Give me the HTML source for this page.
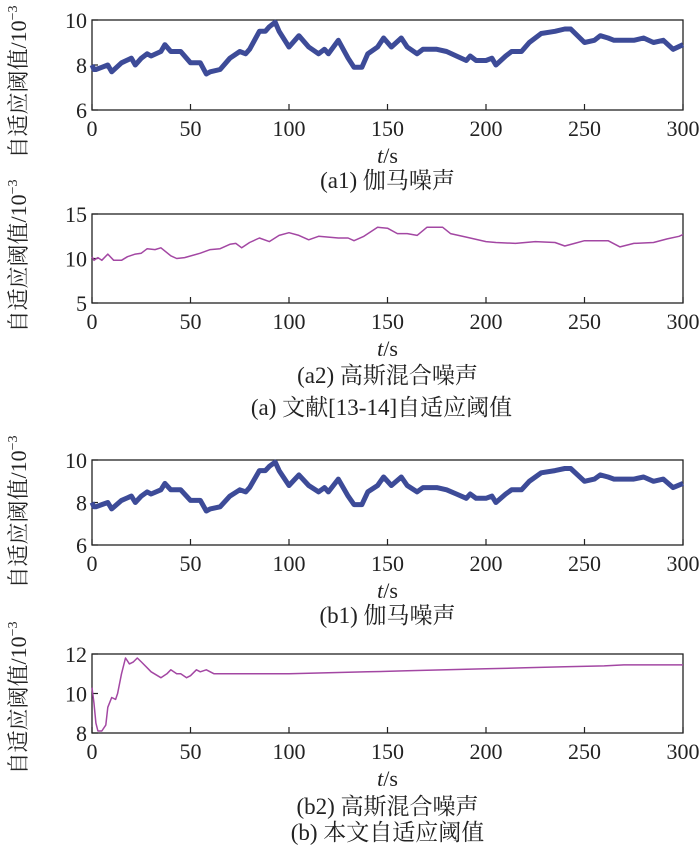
<!DOCTYPE html>
<html><head><meta charset="utf-8"><style>
body{margin:0;background:#fff}
svg{display:block}
text{font-family:"Liberation Serif","Noto Serif CJK SC","Noto Sans CJK SC",serif;fill:#222}
</style></head><body>
<svg id="fig" width="700" height="853" viewBox="0 0 700 853"></svg>
<script>
const gammaT=[0,1,2,5,8,10,15,20,22,25,28,30,35,37,40,45,50,55,58,60,65,70,75,78,80,85,88,90,93,95,100,105,110,115,118,120,125,130,133,137,140,145,148,152,157,160,165,168,175,180,185,190,192,195,200,203,205,210,213,218,222,228,235,240,243,250,255,258,262,265,275,280,285,290,295,300];
const gammaV=[8.0,7.8,7.8,7.9,8.0,7.7,8.1,8.3,8.0,8.3,8.5,8.4,8.6,8.9,8.6,8.6,8.1,8.1,7.6,7.7,7.8,8.3,8.6,8.5,8.7,9.5,9.5,9.7,9.9,9.5,8.8,9.3,8.8,8.5,8.7,8.5,9.1,8.3,7.9,7.9,8.5,8.8,9.2,8.8,9.2,8.8,8.5,8.7,8.7,8.6,8.4,8.2,8.4,8.2,8.2,8.3,8.0,8.4,8.6,8.6,9.0,9.4,9.5,9.6,9.6,9.0,9.1,9.3,9.2,9.1,9.1,9.2,9.0,9.1,8.7,8.9];
const mixAT=[0,1,3,5,8,11,15,18,22,25,28,32,35,40,43,47,55,60,65,70,73,76,80,85,90,95,100,105,110,115,120,125,130,133,138,145,150,155,160,165,170,178,182,190,200,205,215,225,235,240,245,250,262,268,275,285,292,298,300];
const mixAV=[10.2,9.8,10.1,9.8,10.5,9.8,9.8,10.2,10.5,10.6,11.1,11.0,11.2,10.3,10.0,10.1,10.6,11.0,11.1,11.6,11.7,11.2,11.8,12.3,11.9,12.6,12.9,12.6,12.1,12.5,12.4,12.3,12.3,12.0,12.5,13.5,13.4,12.8,12.8,12.6,13.5,13.5,12.8,12.4,11.9,11.8,11.7,11.9,11.8,11.4,11.7,12.0,12.0,11.3,11.7,11.8,12.2,12.5,12.7];
const mixBT=[0,1,2,3,5,7,8,10,12,13,15,17,19,21,23,25,28,30,35,38,40,43,45,48,50,53,55,58,62,65,75,100,120,140,160,180,200,220,240,260,270,300];
const mixBV=[10.3,9.5,8.5,8.1,8.1,8.4,9.3,9.8,9.7,10.0,11.0,11.8,11.5,11.6,11.8,11.6,11.3,11.1,10.8,11.0,11.2,11.0,11.0,10.8,10.9,11.2,11.1,11.2,11.0,11.0,11.0,11.0,11.05,11.1,11.15,11.2,11.25,11.3,11.35,11.4,11.45,11.45];
const xTicks=[0,50,100,150,200,250,300];
const panels=[
 {id:'a1',top:20,bot:110,ymin:6,ymax:10,yt:[6,8,10],T:gammaT,V:gammaV,col:'#3d4b98',w:5,cap:'(a1) 伽马噪声',capY:188,lblC:82},
 {id:'a2',top:214,bot:303,ymin:5,ymax:15,yt:[5,10,15],T:mixAT,V:mixAV,col:'#a347a3',w:1.5,cap:'(a2) 高斯混合噪声',capY:383,lblC:256},
 {id:'b1',top:460,bot:545,ymin:6,ymax:10,yt:[6,8,10],T:gammaT,V:gammaV,col:'#3d4b98',w:5,cap:'(b1) 伽马噪声',capY:623,lblC:512},
 {id:'b2',top:654,bot:733,ymin:8,ymax:12,yt:[8,10,12],T:mixBT,V:mixBV,col:'#a347a3',w:1.5,cap:'(b2) 高斯混合噪声',capY:814,lblC:698}
];
const L=92,R=683,NS='http://www.w3.org/2000/svg';
const svg=document.getElementById('fig');
function mk(tag,attrs,parent){const e=document.createElementNS(NS,tag);for(const k in attrs)e.setAttribute(k,attrs[k]);(parent||svg).appendChild(e);return e;}
const xs=t=>L+(R-L)*t/300;
panels.forEach(p=>{
 const g=mk('g',{});
 
 
 const ys=v=>p.bot-(p.bot-p.top)*(v-p.ymin)/(p.ymax-p.ymin);
 const fr=mk('rect',{x:L,y:p.top,width:R-L,height:p.bot-p.top,fill:'none',stroke:'#222','stroke-width':1.3},g);
 
 
 xTicks.forEach(t=>{
  const x=xs(t);
  mk('line',{x1:x,x2:x,y1:p.bot,y2:p.bot-6,stroke:'#222','stroke-width':1.2},g);
  const tx=mk('text',{x:x,y:p.bot+26,'font-size':22,'text-anchor':'middle'},g);
  tx.textContent=t;
  
  
 });
 p.yt.forEach(v=>{
  const y=ys(v);
  mk('line',{x1:L,x2:L+6,y1:y,y2:y,stroke:'#222','stroke-width':1.2},g);
  const tx=mk('text',{x:L-5,y:y+8,'font-size':22,'text-anchor':'end'},g);
  tx.textContent=v;
  
  
 });
 const pts=p.T.map((t,i)=>xs(t).toFixed(1)+','+ys(p.V[i]).toFixed(1)).join(' ');
 const ln=mk('polyline',{points:pts,fill:'none',stroke:p.col,'stroke-width':p.w,'stroke-linejoin':'round'},g);
 
 
 const xt=mk('text',{x:(L+R)/2,y:p.bot+53,'font-size':22,'text-anchor':'middle'},g);
 xt.innerHTML='<tspan font-style="italic">t</tspan>/s';
 
 
 const cp=mk('text',{x:(L+R)/2,y:p.capY,'font-size':23,'text-anchor':'middle'},g);
 cp.textContent=p.cap;
 
 
 const yl=mk('text',{x:0,y:0,'font-size':22,'text-anchor':'middle',transform:'translate(26,'+p.lblC+') rotate(-90)'},g);
 yl.innerHTML='自适应阈值/10<tspan font-size="14" dy="-9">−3</tspan>';
 
 
});
const c1=mk('text',{x:(L+R)/2-6,y:415,'font-size':23,'text-anchor':'middle'});
c1.textContent='(a) 文献[13-14]自适应阈值';


const c2=mk('text',{x:(L+R)/2,y:840,'font-size':23,'text-anchor':'middle'});
c2.textContent='(b) 本文自适应阈值';


</script>
</body></html>
